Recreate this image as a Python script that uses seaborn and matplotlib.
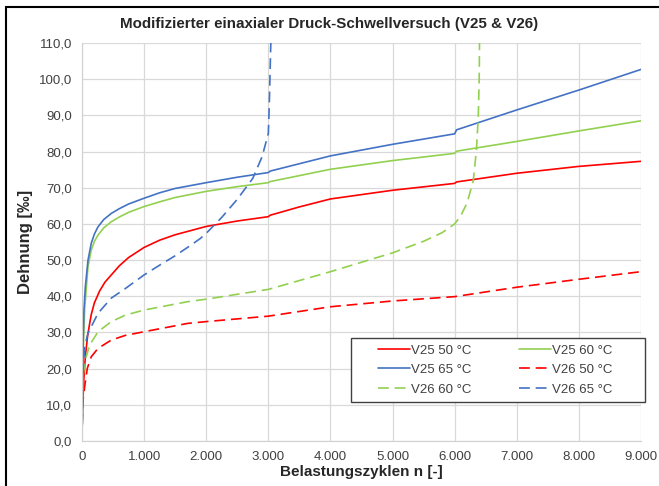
import matplotlib
matplotlib.use("Agg")
import matplotlib.pyplot as plt
from matplotlib.ticker import FuncFormatter, MultipleLocator
from matplotlib.patches import Rectangle
import pandas as pd
import seaborn as sns

n_v25_50 = [0, 5, 15, 30, 54, 90, 124, 150, 200, 285, 370, 472, 600, 750, 1000, 1250, 1500, 2000, 2500,
            3000, 3030, 3500, 4000, 5000, 6000, 6030, 7000, 8000, 9000]
e_v25_50 = [0, 6, 11, 17, 23.3, 29, 32.5, 35.0, 38.2, 41.5, 43.9, 45.9, 48.4, 50.7, 53.5, 55.5, 57.0, 59.3, 60.8,
            62.0, 62.4, 64.7, 66.9, 69.3, 71.2, 71.6, 74.0, 75.9, 77.3]

n_v25_60 = [0, 10, 25, 45, 64, 97, 150, 200, 258, 350, 472, 600, 750, 1000, 1250, 1500, 2000, 2500,
            3000, 3030, 4000, 5000, 6000, 6030, 7000, 8000, 9000]
e_v25_60 = [0, 13, 28, 37, 41, 48.2, 52.8, 55.2, 56.9, 58.9, 60.6, 61.9, 63.2, 64.8, 66.1, 67.3, 69.0, 70.3,
            71.4, 71.7, 75.1, 77.5, 79.5, 80.1, 82.8, 85.7, 88.5]

n_v25_65 = [0, 10, 20, 32, 54, 97, 150, 200, 258, 350, 472, 600, 750, 1000, 1250, 1500, 2000, 2500,
            3000, 3030, 4000, 5000, 6000, 6030, 7000, 8000, 9000]
e_v25_65 = [0, 15, 28, 36.2, 42.6, 50.0, 54.7, 57.2, 59.2, 61.2, 62.9, 64.2, 65.5, 67.1, 68.6, 69.8, 71.4, 72.9,
            74.2, 74.6, 78.8, 82.0, 84.9, 86.0, 91.5, 97.0, 102.7]

n_v26_50 = [0, 11, 43, 86, 150, 258, 472, 700, 1000, 1700, 2000, 3000, 4000, 5000, 6000,
            7000, 8000, 9000]
e_v26_50 = [0, 10.5, 15.0, 20.1, 23.3, 25.6, 27.9, 29.2, 30.2, 32.5, 33.0, 34.5, 37.1, 38.7, 39.9,
            42.5, 44.7, 46.8]

n_v26_60 = [0, 10, 25, 54, 123, 258, 472, 700, 1000, 1700, 2000, 3000, 4000, 5000, 5500, 5800, 6000,
            6100, 6200, 6300, 6350, 6380, 6395, 6400]
e_v26_60 = [0, 14, 19, 22.4, 26.5, 30.2, 33.0, 34.8, 36.2, 38.5, 39.2, 41.9, 46.8, 52.0, 55.2, 57.6, 60.0,
            62.3, 65.8, 72.0, 80.4, 89.5, 100.0, 110.0]

n_v26_65 = [0, 10, 20, 43, 97, 258, 472, 687, 1000, 1250, 1500, 1700, 1900, 2000, 2250, 2500, 2750, 2900,
            3000, 3010, 3020, 3030, 3040]
e_v26_65 = [0, 15, 20, 26.0, 29.8, 35.3, 39.5, 42.0, 45.9, 48.6, 51.2, 53.5, 55.9, 57.4, 61.8, 66.8, 72.6,
            78.6, 85.0, 90.0, 96.0, 103.0, 110.0]

serien = [
    ("V25 50 °C", n_v25_50, e_v25_50, "#FF0000", False),
    ("V25 60 °C", n_v25_60, e_v25_60, "#92D050", False),
    ("V25 65 °C", n_v25_65, e_v25_65, "#4472C4", False),
    ("V26 50 °C", n_v26_50, e_v26_50, "#FF0000", True),
    ("V26 60 °C", n_v26_60, e_v26_60, "#92D050", True),
    ("V26 65 °C", n_v26_65, e_v26_65, "#4472C4", True),
]

sns.set_style("white")
plt.rcParams['font.family'] = ['Liberation Sans', 'DejaVu Sans']

fig = plt.figure(figsize=(6.59, 4.86), dpi=100)
ax = fig.add_axes([0.1244, 0.0926, 0.8483, 0.8189])

linien = {}
for name, n, e, farbe, gestrichelt in serien:
    df = pd.DataFrame({"n": n, "e": e})
    sns.lineplot(data=df, x="n", y="e", ax=ax, color=farbe, lw=1.2,
                 estimator=None, sort=False, label=name)
    line = ax.get_lines()[-1]
    if gestrichelt:
        line.set_dashes((6.5, 3.5))
    linien[name] = line

ax.set_xlim(0, 9000)
ax.set_ylim(0, 110)
ax.xaxis.set_major_locator(MultipleLocator(1000))
ax.yaxis.set_major_locator(MultipleLocator(10))
ax.xaxis.set_major_formatter(FuncFormatter(lambda v, p: f"{int(v):,}".replace(",", ".")))
ax.yaxis.set_major_formatter(FuncFormatter(lambda v, p: f"{v:.1f}".replace(".", ",")))
ax.grid(True, color="#d9d9d9", lw=0.9)
ax.set_axisbelow(True)
for s in ["top", "right"]:
    ax.spines[s].set_visible(False)
for s in ["left", "bottom"]:
    ax.spines[s].set_color("#d0d0d0")
ax.tick_params(axis="both", length=0, labelsize=9.5, colors="#404040", pad=7)

ax.set_xlabel("Belastungszyklen n [-]", fontsize=11, fontweight="bold", labelpad=2)
ax.set_ylabel("Dehnung [‰]", fontsize=12, fontweight="bold", labelpad=4)
fig.text(0.5, 0.951, "Modifizierter einaxialer Druck-Schwellversuch (V25 & V26)",
         ha="center", va="center", fontsize=10.9, fontweight="bold")

# Legendenrahmen
ax.add_patch(Rectangle((0.481, 0.098), 0.526, 0.161, transform=ax.transAxes, clip_on=False,
                       facecolor="white", edgecolor="#404040", lw=1.0, zorder=4))

# Legende zeilenweise wie im Original
reihenfolge = ["V25 50 °C", "V25 65 °C", "V26 60 °C", "V25 60 °C", "V26 50 °C", "V26 65 °C"]
leg = ax.legend([linien[k] for k in reihenfolge], reihenfolge, ncol=2, loc="center",
                bbox_to_anchor=(0.739, 0.1785), fontsize=9.5, frameon=False,
                handlelength=2.4, handletextpad=0.1, borderpad=0.2,
                labelspacing=0.55, columnspacing=3.6)
leg.set_zorder(5)
for t in leg.get_texts():
    t.set_color("#404040")

fig.patches.append(Rectangle((0.009, -0.01), 1.0, 0.996, transform=fig.transFigure,
                             fill=False, edgecolor="black", lw=1.5))

fig.savefig("out.png", dpi=100)
